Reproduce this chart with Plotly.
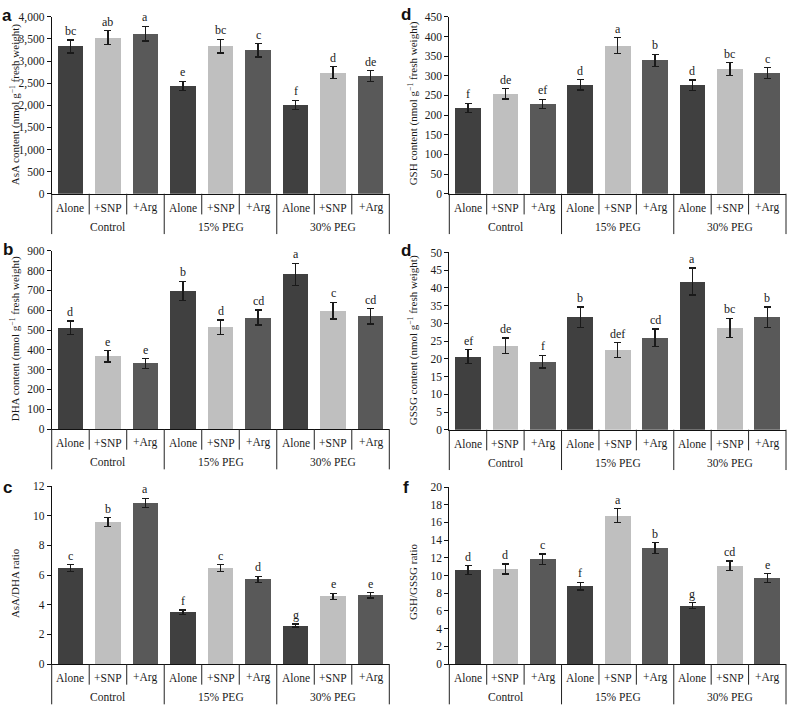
import plotly.graph_objects as go

# ---------------- data ----------------
treatments = ["Alone", "+SNP", "+Arg"]
groups = ["Control", "15% PEG", "30% PEG"]

asa = [3330, 3530, 3620, 2440, 3340, 3240, 2010, 2740, 2660]
asa_err = [145, 160, 165, 100, 155, 150, 100, 135, 120]
asa_sig = ["bc", "ab", "a", "e", "bc", "c", "f", "d", "de"]

dha = [511, 367, 331, 698, 515, 563, 781, 597, 569]
dha_err = [35, 28, 24, 48, 36, 38, 55, 42, 39]
dha_sig = ["d", "e", "e", "b", "d", "cd", "a", "c", "cd"]

asa_dha = [6.47, 9.57, 10.87, 3.49, 6.47, 5.72, 2.59, 4.57, 4.64]
asa_dha_err = [0.22, 0.30, 0.30, 0.15, 0.23, 0.20, 0.10, 0.20, 0.18]
asa_dha_sig = ["c", "b", "a", "f", "c", "d", "g", "e", "e"]

gsh = [218, 254, 228, 277, 377, 339, 276, 317, 307]
gsh_err = [12, 13, 12, 13, 20, 16, 13, 16, 14]
gsh_sig = ["f", "de", "ef", "d", "a", "b", "d", "bc", "c"]

gssg = [20.6, 23.7, 19.2, 31.7, 22.5, 25.9, 41.8, 28.7, 31.7]
gssg_err = [2.0, 2.2, 1.8, 2.9, 2.1, 2.5, 3.8, 2.7, 2.9]
gssg_sig = ["ef", "de", "f", "b", "def", "cd", "a", "bc", "b"]

gsh_gssg = [10.63, 10.74, 11.85, 8.81, 16.78, 13.11, 6.59, 11.11, 9.70]
gsh_gssg_err = [0.50, 0.55, 0.57, 0.44, 0.78, 0.59, 0.33, 0.52, 0.52]
gsh_gssg_sig = ["d", "d", "c", "f", "a", "b", "g", "cd", "e"]

# ---------------- styling ----------------
W, H = 787, 712
SERIF = "Liberation Serif, Times New Roman, Times, serif"
SANS = "Liberation Sans, Arial, Helvetica, sans-serif"
TXT = "#1a1a1a"
bar_colors = ["#404040", "#bfbfbf", "#595959"]


def fx(x):
    return x / W


def fy(y):
    return 1 - y / H


panels = [
    dict(letter="a", v=asa, e=asa_err, s=asa_sig,
         title="AsA content (nmol g<sup>−1</sup> fresh weight)",
         ymax=4000, dtick=500, fmt=",", box=(51.7, 389.3, 11, 191),
         lpos=(7, 9.5), tx=15, ty=100),
    dict(letter="d", v=gsh, e=gsh_err, s=gsh_sig,
         title="GSH content (nmol g<sup>−1</sup> fresh weight)",
         ymax=450, dtick=50, fmt="", box=(449.3, 786, 11, 191),
         lpos=(406.5, 8.5), tx=413, ty=99),
    dict(letter="b", v=dha, e=dha_err, s=dha_sig,
         title="DHA content (nmol g<sup>−1</sup> fresh weight)",
         ymax=900, dtick=100, fmt="", box=(51.7, 389.3, 249, 430.3),
         lpos=(7.5, 247.5), tx=15, ty=339),
    dict(letter="d", v=gssg, e=gssg_err, s=gssg_sig,
         title="GSSG content (nmol g<sup>−1</sup> fresh weight)",
         ymax=50, dtick=5, fmt="", box=(449.3, 786, 250.7, 431),
         lpos=(406.5, 249), tx=413, ty=340),
    dict(letter="c", v=asa_dha, e=asa_dha_err, s=asa_dha_sig,
         title="AsA/DHA ratio",
         ymax=12, dtick=2, fmt="", box=(51.7, 389.3, 488.3, 669.3),
         lpos=(7.5, 489.5), tx=15, ty=587),
    dict(letter="f", v=gsh_gssg, e=gsh_gssg_err, s=gsh_gssg_sig,
         title="GSH/GSSG ratio",
         ymax=20, dtick=2, fmt="", box=(449.3, 786, 489.3, 669.3),
         lpos=(406, 489.5), tx=413, ty=586),
]

fig = go.Figure()
annotations = []
shapes = []
layout_axes = {}

for idx, p in enumerate(panels, start=1):
    xn = "x" if idx == 1 else f"x{idx}"
    yn = "y" if idx == 1 else f"y{idx}"
    xl = "xaxis" if idx == 1 else f"xaxis{idx}"
    yl = "yaxis" if idx == 1 else f"yaxis{idx}"
    x0, x1, yt, yb = p["box"]
    n = len(p["v"])
    xs = list(range(n))
    colors = [bar_colors[i % 3] for i in xs]

    fig.add_trace(go.Bar(
        x=xs, y=p["v"], width=0.69, marker=dict(color=colors, line=dict(width=0)),
        error_y=dict(type="data", array=p["e"], visible=True, color="#1a1a1a",
                     thickness=1.3, width=3.5),
        xaxis=xn, yaxis=yn, showlegend=False, hoverinfo="skip"))

    layout_axes[xl] = dict(domain=[fx(x0), fx(x1)], range=[-0.5, n - 0.5],
                           showline=True, linecolor="#111111", linewidth=1,
                           showticklabels=False, ticks="", showgrid=False,
                           zeroline=False, anchor=yn, fixedrange=True)
    layout_axes[yl] = dict(domain=[fy(yb), fy(yt)], range=[0, p["ymax"]],
                           dtick=p["dtick"], tick0=0, tickformat=p["fmt"],
                           showline=True, linecolor="#111111", linewidth=1,
                           ticks="outside", ticklen=4, tickcolor="#111111",
                           tickfont=dict(family=SERIF, size=11.5, color=TXT),
                           showgrid=False, zeroline=False, anchor=xn,
                           fixedrange=True)

    # significance letters
    for i in xs:
        annotations.append(dict(
            x=i, y=p["v"][i] + p["e"][i], xref=xn, yref=yn, text=p["s"][i],
            showarrow=False, yanchor="bottom", xanchor="center",
            font=dict(family=SERIF, size=12, color=TXT)))

    # treatment labels
    for i in xs:
        annotations.append(dict(
            x=i, y=fy(yb + 14), xref=xn, yref="paper", text=treatments[i % 3],
            showarrow=False, yanchor="middle", xanchor="center",
            font=dict(family=SERIF, size=11.5, color=TXT)))
    # group labels
    for g, name in enumerate(groups):
        annotations.append(dict(
            x=3 * g + 1, y=fy(yb + 34), xref=xn, yref="paper", text=name,
            showarrow=False, yanchor="middle", xanchor="center",
            font=dict(family=SERIF, size=11.5, color=TXT)))

    # dividers
    for k in range(n + 1):
        length = 41 if k % 3 == 0 else 21
        shapes.append(dict(
            type="line", xref=f"{xn} domain", yref="paper",
            x0=k / n, x1=k / n, y0=fy(yb), y1=fy(yb + length),
            line=dict(color="#222222", width=1)))

    # y-axis title
    annotations.append(dict(
        x=fx(p["tx"]), y=fy(p["ty"]), xref="paper", yref="paper",
        text=p["title"], textangle=-90, showarrow=False,
        xanchor="center", yanchor="middle",
        font=dict(family=SERIF, size=11, color=TXT)))

    # panel letter
    annotations.append(dict(
        x=fx(p["lpos"][0]), y=fy(p["lpos"][1]), xref="paper", yref="paper",
        text=f"<b>{p['letter']}</b>", showarrow=False,
        xanchor="center", yanchor="middle",
        font=dict(family=SANS, size=17, color="#111111")))

fig.update_layout(
    width=W, height=H,
    margin=dict(l=0, r=0, t=0, b=0),
    paper_bgcolor="white", plot_bgcolor="white",
    showlegend=False, bargap=0,
    annotations=annotations, shapes=shapes,
    **layout_axes)

fig.write_html(
    "out.html",
    config={"displayModeBar": False, "staticPlot": True},
    post_script="document.body.style.margin='0';document.body.style.padding='0';"
                "document.body.style.overflow='hidden';",
)
